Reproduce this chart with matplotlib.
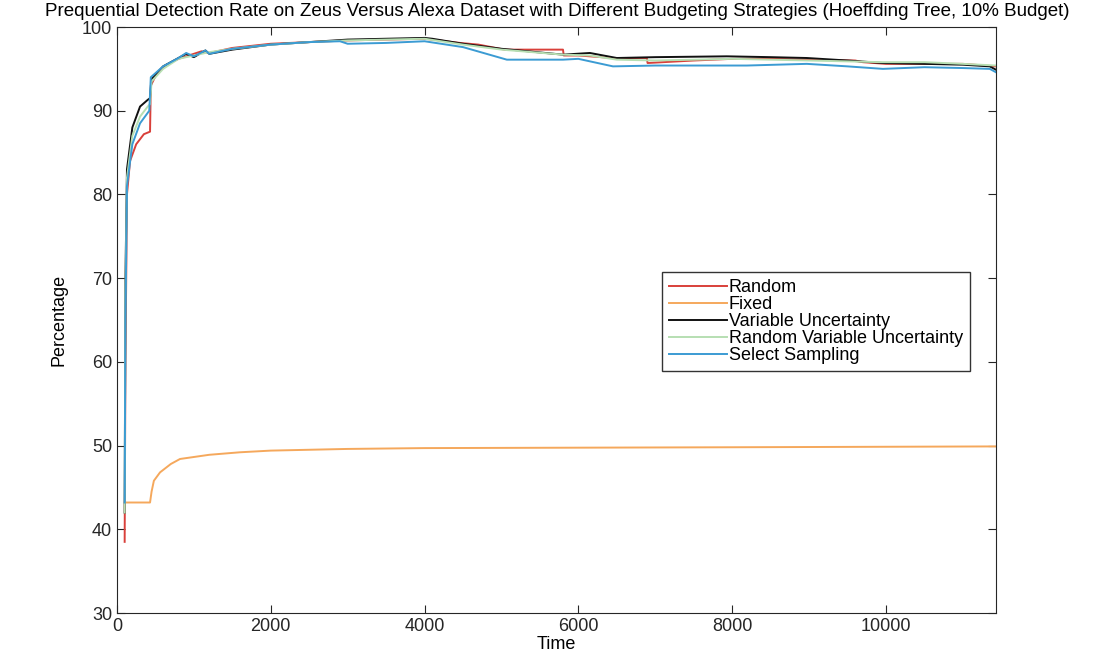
import matplotlib
matplotlib.use("Agg")
import matplotlib.pyplot as plt

plt.rcParams['font.family'] = ['Liberation Sans', 'DejaVu Sans']

# key points (time, percentage)
random_t = [100, 110, 130, 170, 250, 350, 430, 440, 520, 650, 800, 1000, 1100, 1200, 1500, 2000, 2500, 3000,
            3500, 4000, 4100, 4460, 4700, 5040, 5800, 5810, 6000, 6450, 6890, 6900, 7500, 8000, 8500, 9000,
            9600, 9700, 10000, 10500, 11000, 11430]
random_y = [38.5, 60, 80, 84, 86, 87.2, 87.5, 93, 94.5, 95.5, 96.2, 96.8, 97.1, 96.9, 97.5, 98.0, 98.2, 98.4,
            98.5, 98.6, 98.5, 98.1, 97.9, 97.3, 97.3, 96.6, 96.6, 96.3, 96.3, 95.7, 96.0, 96.2, 96.2, 96.1,
            96.0, 95.8, 95.6, 95.6, 95.6, 95.3]

fixed_t = [100, 430, 450, 480, 560, 700, 820, 1200, 1600, 2000, 3000, 4000, 6000, 8000, 11430]
fixed_y = [43.2, 43.2, 44.5, 45.8, 46.8, 47.8, 48.4, 48.9, 49.2, 49.4, 49.6, 49.7, 49.75, 49.8, 49.9]

varunc_t = [100, 110, 130, 200, 300, 400, 430, 450, 500, 600, 800, 900, 1000, 1150, 1200, 1500, 2000, 2500,
            3000, 3500, 4000, 4100, 4500, 5000, 5800, 6150, 6500, 7000, 7930, 8500, 8970, 9500, 9960, 10500,
            11000, 11350, 11430]
varunc_y = [42, 70, 83, 88, 90.5, 91.3, 91.5, 93.8, 94.3, 95.3, 96.3, 96.8, 96.4, 97.2, 96.8, 97.3, 97.9, 98.2,
            98.5, 98.6, 98.7, 98.6, 98.0, 97.4, 96.7, 96.9, 96.3, 96.4, 96.5, 96.4, 96.3, 96.0, 95.7, 95.6,
            95.5, 95.3, 94.9]

rvu_t = [100, 110, 130, 200, 300, 400, 430, 450, 600, 800, 1000, 1200, 1500, 2000, 2500, 3000, 3500, 4000,
         4500, 5000, 5800, 6150, 6500, 7000, 8000, 9000, 9960, 10500, 11000, 11430]
rvu_y = [42, 68, 82, 87, 89.3, 90.5, 90.8, 93.5, 95.0, 96.2, 96.6, 97.0, 97.4, 97.9, 98.2, 98.4, 98.5, 98.6,
         97.9, 97.3, 96.7, 96.6, 96.1, 96.0, 96.2, 96.0, 95.8, 95.8, 95.6, 95.4]

select_t = [100, 110, 130, 200, 300, 420, 440, 600, 800, 900, 1000, 1150, 1200, 1500, 2000, 2500, 2900, 3000,
            3500, 4000, 4500, 5070, 5800, 6000, 6450, 7000, 8190, 8970, 9500, 9960, 10500, 11000, 11350, 11430]
select_y = [43.2, 65, 81, 86, 88.5, 90, 94, 95.3, 96.3, 96.9, 96.5, 97.2, 96.8, 97.4, 97.9, 98.2, 98.3, 98.0,
            98.1, 98.3, 97.6, 96.1, 96.1, 96.2, 95.3, 95.4, 95.4, 95.6, 95.3, 95.0, 95.2, 95.1, 95.0, 94.6]

fig = plt.figure(figsize=(11.14, 6.64), dpi=100)
ax = fig.add_axes([0.105, 0.0768, 0.789, 0.8825])

ax.plot(random_t, random_y, color='#d9403a', lw=1.4, label='Random')
ax.plot(fixed_t, fixed_y, color='#f5a85c', lw=1.4, label='Fixed')
ax.plot(varunc_t, varunc_y, color='#111111', lw=1.4, label='Variable Uncertainty')
ax.plot(rvu_t, rvu_y, color='#b7dfb2', lw=1.4, label='Random Variable Uncertainty')
ax.plot(select_t, select_y, color='#3b9bd3', lw=1.4, label='Select Sampling')

ax.set_xlim(0, 11430)
ax.set_ylim(30, 100)
ax.set_xticks([0, 2000, 4000, 6000, 8000, 10000])
ax.set_yticks([30, 40, 50, 60, 70, 80, 90, 100])
ax.tick_params(direction='in', top=True, right=True, length=6, labelsize=13, colors='#262626')
for s in ax.spines.values():
    s.set_color('#262626')
    s.set_linewidth(0.8)

ax.set_xlabel('Time', fontsize=13, labelpad=1)
ax.set_ylabel('Percentage', fontsize=13, labelpad=10)
fig.suptitle('Prequential Detection Rate on Zeus Versus Alexa Dataset with Different Budgeting Strategies '
             '(Hoeffding Tree, 10% Budget)', fontsize=13.5, y=0.995, x=0.5)

leg = ax.legend(loc='upper left', bbox_to_anchor=(0.62, 0.582), fontsize=13, frameon=True, fancybox=False,
                handlelength=3.2, handletextpad=0.1, borderpad=0.4, labelspacing=0.0, borderaxespad=0)
leg.get_frame().set_edgecolor('black')
leg.get_frame().set_linewidth(1.0)

fig.savefig('out.png', dpi=100)
